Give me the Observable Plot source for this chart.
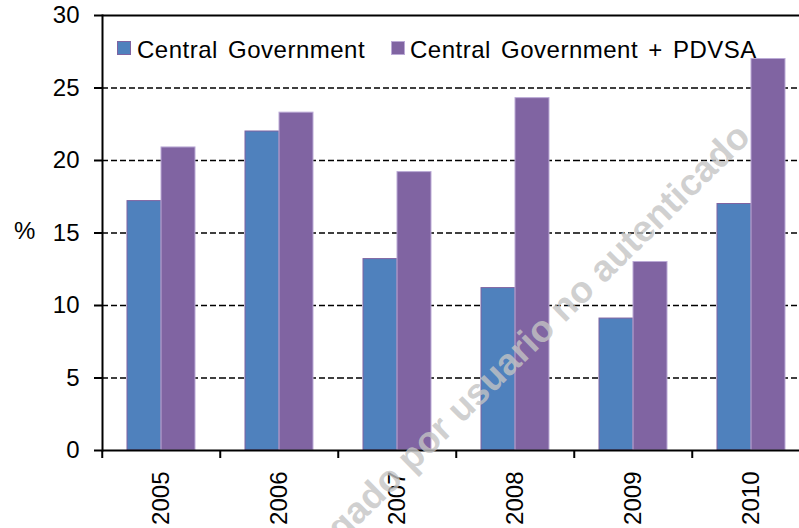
<!DOCTYPE html>
<html><head><meta charset="utf-8">
<script src="https://cdn.jsdelivr.net/npm/d3@7"></script>
<script src="https://cdn.jsdelivr.net/npm/@observablehq/plot@0.6"></script>
<style>
body{margin:0;background:#fff;overflow:hidden;font-family:"Liberation Sans",Arial,sans-serif;}
#wrap{position:relative;width:799px;height:528px;overflow:hidden;background:#fff;}
#wm{position:absolute;left:0;top:0;pointer-events:none;}
#chart{position:absolute;left:0;top:0;width:811px;}
#chart svg{max-width:none !important;}
.sw{position:absolute;width:12px;height:12px;}
.lt{position:absolute;font-size:24px;line-height:24px;white-space:nowrap;color:#000;letter-spacing:0.5px;word-spacing:3px;}
#pct{position:absolute;left:14px;top:219px;font-size:24px;line-height:24px;color:#000;}
</style></head><body>
<div id="wrap">
  <div id="chart"></div>
  <svg id="wm" width="799" height="528">
    <text transform="translate(752,139) rotate(-44.5)" text-anchor="end" font-family="Liberation Sans, Arial, sans-serif" font-weight="bold" font-size="37" fill="#c4c4c4" fill-opacity="0.8">Documento descargado por usuario no autenticado</text>
  </svg>
  <div class="sw" style="left:117px;top:41px;background:#4F81BD;border:0.5px solid #7F63A1;"></div>
  <div class="lt" style="left:137px;top:38px;">Central Government</div>
  <div class="sw" style="left:391px;top:41px;background:#8064A2;border:0.5px solid #BBAAD6;"></div>
  <div class="lt" style="left:410px;top:38px;">Central Government + PDVSA</div>
  <div id="pct">%</div>
</div>
<script>
const years = ["2005", "2006", "2007", "2008", "2009", "2010"];
const seriesNames = ["Central Government", "Central Government + PDVSA"];
const centralGov = [17.2, 22.0, 13.2, 11.2, 9.1, 17.0];
const centralGovPdvsa = [20.9, 23.3, 19.2, 24.3, 13.0, 27.0];
const yTicks = [0, 5, 10, 15, 20, 25, 30];
const gridTicks = [5, 10, 15, 20, 25];

const cgRows = years.map((year, i) => ({year, series: seriesNames[0], value: centralGov[i]}));
const pdRows = years.map((year, i) => ({year, series: seriesNames[1], value: centralGovPdvsa[i]}));

const W = 811, ML = 100;
const step = (W - ML) / years.length;

const chart = Plot.plot({
  width: W, height: 528,
  marginLeft: ML, marginRight: 0, marginTop: 15, marginBottom: 78,
  style: {background: "transparent", fontFamily: "Liberation Sans, Arial, sans-serif", fontSize: "24px", color: "#000", overflow: "visible", maxWidth: "none"},
  fx: {domain: years, padding: 0, label: null},
  x: {domain: seriesNames, paddingInner: 0, paddingOuter: 0.7, axis: null},
  y: {domain: [0, 30], axis: null},
  marks: [
    Plot.gridY(gridTicks, {stroke: "#000", strokeOpacity: 1, strokeWidth: 1.6, strokeDasharray: "6,3"}),
    Plot.ruleY([30], {stroke: "#000", strokeWidth: 2}),
    Plot.barY(cgRows, {fx: "year", x: "series", y: "value", fill: "#4F81BD", stroke: "#7F63A1", strokeWidth: 1}),
    Plot.barY(pdRows, {fx: "year", x: "series", y: "value", fill: "#8064A2", stroke: "#BBAAD6", strokeWidth: 1}),
    Plot.ruleY([0], {stroke: "#000", strokeWidth: 2}),
    Plot.frame({anchor: "left", facetAnchor: "left", stroke: "#000", strokeWidth: 2}),
    Plot.axisY({ticks: yTicks, tickSize: 8, tickPadding: 15, fontSize: 24, strokeWidth: 2, label: null}),
    Plot.axisFx({anchor: "bottom", tickSize: 8, tickFormat: () => "", dx: -step / 2, strokeWidth: 2, label: null}),
    Plot.axisFx({anchor: "bottom", tickSize: 0, tickPadding: 21, tickRotate: -90, fontSize: 24, label: null})
  ]
});
document.getElementById("chart").appendChild(chart);
</script>
</body></html>
